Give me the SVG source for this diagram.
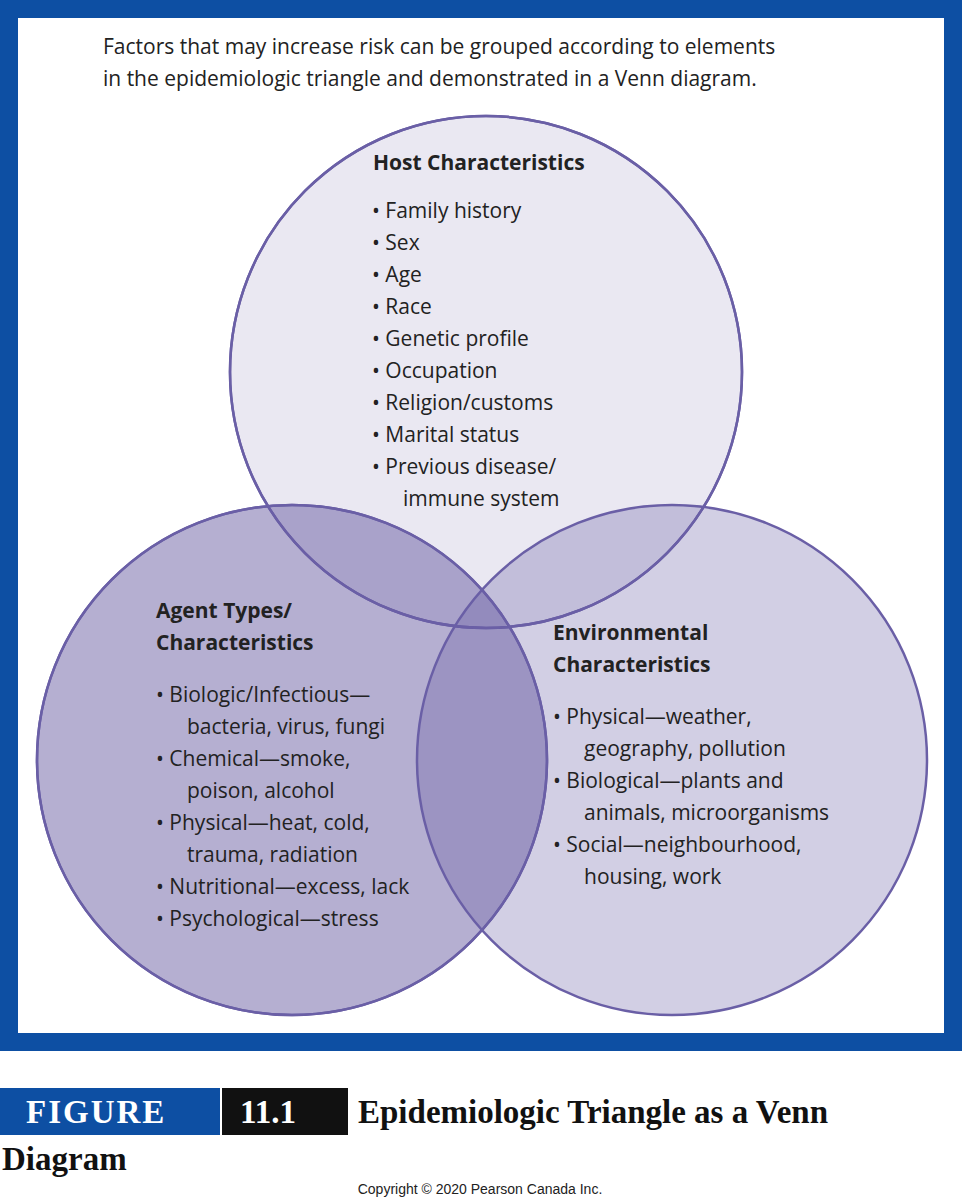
<svg xmlns="http://www.w3.org/2000/svg" width="962" height="1200" viewBox="0 0 962 1200">
<style>
.t{font-family:"Open Sans","Liberation Sans",sans-serif;font-size:21px;fill:#222}
.h{font-family:"Open Sans","Liberation Sans",sans-serif;font-size:21px;font-weight:bold;fill:#222}
.c{stroke:#6a5fa6;stroke-width:2.5}
.cap{font-family:"Liberation Serif",serif;font-weight:bold;font-size:33px}
</style>
<rect x="0" y="0" width="962" height="1200" fill="#fff"/>
<rect x="9" y="9" width="944" height="1033" fill="#fff" stroke="#0d4fa3" stroke-width="18"/>
<text class="t" x="103" y="54">Factors that may increase risk can be grouped according to elements</text>
<text class="t" x="103" y="86">in the epidemiologic triangle and demonstrated in a Venn diagram.</text>
<g id="host"><circle class="c" cx="486" cy="372" r="256" fill="#5a4e9a" fill-opacity="0.13"/></g>
<g id="agent"><circle class="c" cx="292" cy="760" r="255" fill="#5a4e9a" fill-opacity="0.45"/></g>
<g id="env"><circle class="c" cx="672" cy="760" r="255" fill="#5a4e9a" fill-opacity="0.27"/></g>
<circle cx="486" cy="372" r="256" fill="none" class="c"/>
<circle cx="292" cy="760" r="255" fill="none" class="c"/>
<g id="host-text">
<text class="h" x="373" y="170">Host Characteristics</text>
<g class="t">
<text x="372" y="218">•   Family history</text>
<text x="372" y="250">•   Sex</text>
<text x="372" y="282">•   Age</text>
<text x="372" y="314">•   Race</text>
<text x="372" y="346">•   Genetic profile</text>
<text x="372" y="378">•   Occupation</text>
<text x="372" y="410">•   Religion/customs</text>
<text x="372" y="442">•   Marital status</text>
<text x="372" y="474">•   Previous disease/</text>
<text x="403" y="506">immune system</text>
</g></g>
<g id="agent-text">
<text class="h" x="156" y="618">Agent Types/</text>
<text class="h" x="156" y="650">Characteristics</text>
<g class="t">
<text x="156" y="702">•   Biologic/Infectious—</text>
<text x="187" y="734">bacteria, virus, fungi</text>
<text x="156" y="766">•   Chemical—smoke,</text>
<text x="187" y="798">poison, alcohol</text>
<text x="156" y="830">•   Physical—heat, cold,</text>
<text x="187" y="862">trauma, radiation</text>
<text x="156" y="894">•   Nutritional—excess, lack</text>
<text x="156" y="926">•   Psychological—stress</text>
</g></g>
<g id="env-text">
<text class="h" x="553" y="640">Environmental</text>
<text class="h" x="553" y="672">Characteristics</text>
<g class="t">
<text x="553" y="724">•   Physical—weather,</text>
<text x="584" y="756">geography, pollution</text>
<text x="553" y="788">•   Biological—plants and</text>
<text x="584" y="820">animals, microorganisms</text>
<text x="553" y="852">•   Social—neighbourhood,</text>
<text x="584" y="884">housing, work</text>
</g></g>
<rect x="0" y="1088" width="220" height="47" fill="#0d4fa3"/>
<rect x="222" y="1088" width="126" height="47" fill="#111"/>
<text class="cap" x="26" y="1123" fill="#fff" letter-spacing="2">FIGURE</text>
<text class="cap" x="240" y="1123" fill="#fff">11.1</text>
<text class="cap" x="358" y="1123" fill="#111">Epidemiologic Triangle as a Venn</text>
<text class="cap" x="2" y="1170" fill="#111">Diagram</text>
<text x="480" y="1194" text-anchor="middle" font-family="Liberation Sans,sans-serif" font-size="14" fill="#222">Copyright © 2020 Pearson Canada Inc.</text>
</svg>
